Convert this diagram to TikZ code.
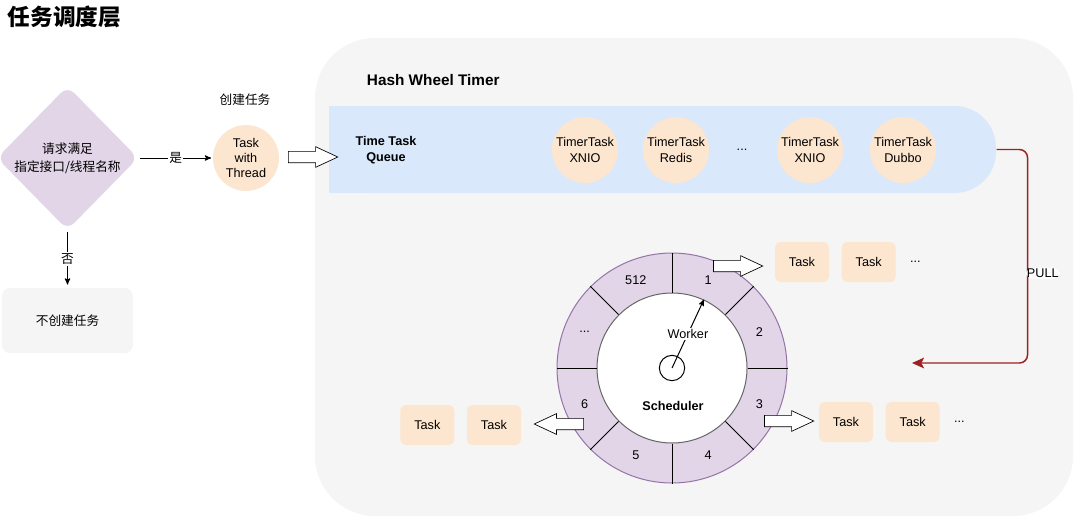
\documentclass[tikz,border=0pt]{standalone}
\usepackage{fontspec}
\setmainfont{Liberation Sans}
\newfontfamily\cjk{Noto Sans CJK SC}
\usetikzlibrary{arrows,arrows.meta,shapes.geometric,shapes.arrows,positioning}

\definecolor{bgrey}{HTML}{F5F5F5}
\definecolor{lilac}{HTML}{E1D5E7}
\definecolor{lilacline}{HTML}{9673A6}
\definecolor{peach}{HTML}{FCE6CF}
\definecolor{skyband}{HTML}{DAE8FC}
\definecolor{pullred}{HTML}{9C2222}

\tikzset{
  txt/.style={font=\fontsize{9.5}{11.5}\selectfont, align=center},
  boldtxt/.style={font=\bfseries\fontsize{9.5}{11.5}\selectfont, align=center},
  cjktxt/.style={font=\cjk\fontsize{9.5}{13.5}\selectfont, align=center},
  ttask/.style={circle, fill=peach, minimum size=49.5pt, inner sep=0pt, txt},
  task/.style={rectangle, rounded corners=4pt, fill=peach, minimum width=40.5pt, minimum height=30pt, inner sep=0pt, txt},
  blockarrow/.style={single arrow, draw, fill=white, line width=0.5pt, inner xsep=0pt, inner ysep=4pt,
    single arrow head extend=3.5pt, minimum height=37pt, single arrow tip angle=50},
  pull/.style={draw=pullred, line width=1.1pt, rounded corners=6pt},
}
\def\wdots{...}

\begin{document}
\begin{tikzpicture}[x=0.75pt,y=-0.75pt,>=stealth',line width=0.75pt,node distance=50pt]
\useasboundingbox (0,0) rectangle (1080,522);

\node[anchor=west, font=\cjk\bfseries\fontsize{17}{20}\selectfont] (title) at (3,17) {任务调度层};

% left part: decision
\node[diamond, fill=lilac, rounded corners=7pt, minimum width=106pt, minimum height=108pt, inner sep=0pt] (cond) at (67.5,158) {};
\node[cjktxt] (condtext) at (cond) {请求满足\\指定接口/线程名称};
\node[ttask] (twt) at (246,158) {Task\\with\\Thread};
\node[cjktxt] (create) at (245,100) {创建任务};
\node[rectangle, rounded corners=6pt, fill=bgrey, minimum width=98pt, minimum height=49pt, cjktxt] (nocreate) at (67.5,320.5) {不创建任务};

\path[->] (cond) edge[shorten <=1pt, shorten >=1pt] node[fill=white, inner sep=1pt, cjktxt]{是} (twt)
          (cond) edge[shorten <=1pt, shorten >=2pt] node[fill=white, inner sep=1pt, cjktxt]{否} (nocreate);

% hash wheel timer
\fill[bgrey, rounded corners=45pt] (315,38) rectangle (1073,516);
\node[anchor=west, font=\bfseries\fontsize{11.5}{14}\selectfont] (hwt) at (362,80) {Hash Wheel Timer};

\node[rectangle, rounded corners=31pt, fill=skyband, minimum width=500.25pt, minimum height=65.25pt, inner sep=0pt] (queue) at (662.5,149.5) {};
\fill[skyband] (329,106) rectangle (700,193);
\node[boldtxt] (qlabel) at (386,150) {Time Task\\Queue};
\node[blockarrow] (inarrow) at (307,157) {};

\node[ttask] (tt1) at (585,150) {TimerTask\\XNIO};
\node[ttask] (tt2) at (676,150) {TimerTask\\Redis};
\node[txt] (qdots) at (742,150) {...};
\node[ttask] (tt3) at (810,150) {TimerTask\\XNIO};
\node[ttask] (tt4) at (903,150) {TimerTask\\Dubbo};

\coordinate (pullend) at (912,363);
\draw[pull, -{Stealth[length=9pt,width=8pt,inset=2pt]}] (queue.east) -- ++(31,0) |- (pullend)
  node[pos=0.29, anchor=west, fill=white, inner sep=1pt, xshift=-2pt, txt]{PULL};

% wheel
\node[circle, draw=lilacline, fill=lilac, minimum size=172.5pt, inner sep=0pt] (rim) at (672,368) {};
\node[circle, draw=black!60, fill=white, minimum size=112.5pt, inner sep=0pt] (ring) at (672,368) {};
\foreach \a in {0,45,...,315}
  \draw (ring.\a) -- (rim.\a);
\foreach \ang/\lbl in {67.5/1, 22.5/2, -22.5/3, -67.5/4, -112.5/5, -157.5/6, 157.5/\wdots, 112.5/512}
  \node[txt] at ([shift={(\ang:71pt)}]rim.center) {\lbl};
\node[circle, draw, fill=white, minimum size=19pt, inner sep=0pt] (hub) at (672,368) {};
\draw[->] (hub.center) -- (ring.65) node[midway, fill=white, inner sep=1pt, txt]{Worker};
\node[boldtxt] (sched) at (673,406) {Scheduler};

% slots out
\node[blockarrow] (out1) at (732,266) {};
\node[task] (t1a) at (802,262) {Task};
\node[task, right of=t1a] (t1b) {Task};
\node[txt, right of=t1b, node distance=35pt] (t1dots) {...};

\node[blockarrow] (out3) at (783,421) {};
\node[task] (t3a) at (846,422) {Task};
\node[task, right of=t3a] (t3b) {Task};
\node[txt, right of=t3b, node distance=35pt] (t3dots) {...};

\node[blockarrow, shape border rotate=180] (out6) at (565,424) {};
\node[task] (t6b) at (494,425) {Task};
\node[task, left of=t6b] (t6a) {Task};

\end{tikzpicture}
\end{document}
